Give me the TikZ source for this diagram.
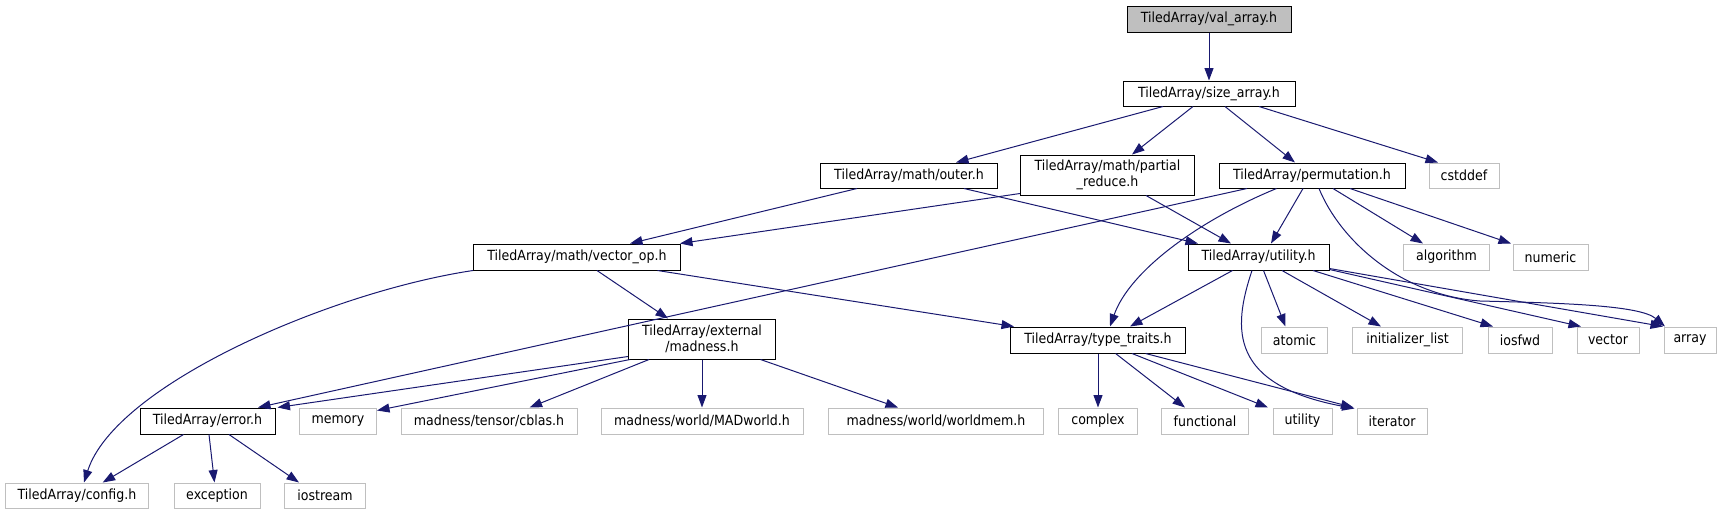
\documentclass[tikz,border=0pt]{standalone}
\usepackage{fontspec}
\setmainfont{DejaVu Sans Condensed}
\usetikzlibrary{arrows.meta}
\definecolor{edgec}{HTML}{191970}
\definecolor{leafc}{HTML}{BFBFBF}
\begin{document}
\begin{tikzpicture}[x=1pt,y=-1pt,
  box/.style={draw=black, line width=1pt, inner sep=0pt, minimum height=26pt,
    font=\fontsize{14}{15.5}\selectfont, align=center},
  leaf/.style={box, draw=leafc},
  edge/.style={draw=edgec, line width=1pt, -{Triangle[length=12.5pt,width=9pt]}}]
\useasboundingbox (0,0) rectangle (1725,515);
% row 0
\node[box, fill=leafc, minimum width=164pt] (val) at (1209,19) {TiledArray/val\_array.h};
% row 1
\node[box, minimum width=172pt, minimum height=25pt] (size) at (1209,93.5) {TiledArray/size\_array.h};
% row 2
\node[box, minimum width=177pt, minimum height=25pt] (outer) at (909,175.5) {TiledArray/math/outer.h};
\node[box, minimum width=174pt, minimum height=40pt] (partial) at (1107.5,175) {TiledArray/math/partial\\\_reduce.h};
\node[box, minimum width=186pt, minimum height=25pt] (perm) at (1312,175.5) {TiledArray/permutation.h};
\node[leaf, minimum width=70pt, minimum height=25pt] (cstddef) at (1464,175.5) {cstddef};
% row 3
\node[box, minimum width=207pt] (vecop) at (577,257) {TiledArray/math/vector\_op.h};
\node[box, minimum width=141pt] (utility) at (1258.5,257) {TiledArray/utility.h};
\node[leaf, minimum width=86pt] (algorithm) at (1446.5,257) {algorithm};
\node[leaf, minimum width=75pt] (numeric) at (1550.5,257) {numeric};
% row 4
\node[box, minimum width=147pt, minimum height=40pt] (madness) at (702,339) {TiledArray/external\\/madness.h};
\node[box, minimum width=175pt] (traits) at (1098,340) {TiledArray/type\_traits.h};
\node[leaf, minimum width=66pt] (atomic) at (1294.5,340) {atomic};
\node[leaf, minimum width=110pt] (initlist) at (1407.5,340) {initializer\_list};
\node[leaf, minimum width=64pt] (iosfwd) at (1520,340) {iosfwd};
\node[leaf, minimum width=62pt] (vector) at (1608,340) {vector};
\node[leaf, minimum width=52pt] (array) at (1690,340) {array};
% row 5
\node[box, minimum width=135pt] (error) at (207.5,421) {TiledArray/error.h};
\node[leaf, minimum width=77pt] (memory) at (338,421) {memory};
\node[leaf, minimum width=176pt] (cblas) at (489,421) {madness/tensor/cblas.h};
\node[leaf, minimum width=202pt] (madworld) at (702,421) {madness/world/MADworld.h};
\node[leaf, minimum width=215pt] (worldmem) at (936,421) {madness/world/worldmem.h};
\node[leaf, minimum width=79pt] (complex) at (1098,421) {complex};
\node[leaf, minimum width=87pt] (functional) at (1205,421) {functional};
\node[leaf, minimum width=59pt] (utilstd) at (1302.5,421) {utility};
\node[leaf, minimum width=70pt] (iterator) at (1392,421) {iterator};
% row 6
\node[leaf, minimum width=143pt, minimum height=25pt] (config) at (77,495.5) {TiledArray/config.h};
\node[leaf, minimum width=86pt, minimum height=25pt] (exception) at (217,495.5) {exception};
\node[leaf, minimum width=81pt, minimum height=25pt] (iostream) at (325,495.5) {iostream};
% edges
\draw[edge] (val.south) -- (size.north);
\draw[edge] ([xshift=-46pt]size.south) -- ([xshift=47pt]outer.north);
\draw[edge] ([xshift=-16pt]size.south) -- ([xshift=24.5pt]partial.north);
\draw[edge] ([xshift=16pt]size.south) -- ([xshift=-17pt]perm.north);
\draw[edge] ([xshift=50pt]size.south) -- ([xshift=-26pt]cstddef.north);
\draw[edge] ([xshift=-52pt]outer.south) -- ([xshift=53pt]vecop.north);
\draw[edge] ([xshift=55pt]outer.south) -- ([xshift=-60.5pt]utility.north);
\draw[edge] ([yshift=2pt]partial.south west) -- ([xshift=-1pt]vecop.north east);
\draw[edge] ([xshift=38.5pt]partial.south) -- ([xshift=-27.5pt]utility.north);
\draw[edge] ([xshift=-65pt]perm.south) -- ([xshift=50.5pt]error.north);
\draw[edge] ([xshift=-9pt]perm.south) -- ([xshift=12.5pt]utility.north);
\draw[edge] ([xshift=-35.5pt]perm.south) .. controls (1200,220) and (1130,270) .. ([xshift=12pt]traits.north);
\draw[edge] ([xshift=21pt]perm.south) -- ([xshift=-23.5pt]algorithm.north);
\draw[edge] ([xshift=38pt]perm.south) -- ([xshift=-39.5pt]numeric.north);
\draw[edge] ([xshift=7pt]perm.south) .. controls (1340,240) and (1400,295) .. (1480,301)
  .. controls (1560,303) and (1640,305) .. ([xshift=-25pt]array.north);
\draw[edge] (vecop.south west) .. controls (330,292) and (115,385) .. ([xshift=7pt]config.north);
\draw[edge] ([xshift=20pt]vecop.south) -- ([xshift=-34pt]madness.north);
\draw[edge] ([xshift=80.5pt]vecop.south) -- ([xshift=4pt]traits.north west);
\draw[edge] ([yshift=3pt]madness.south west) -- ([xshift=2pt]error.north east);
\draw[edge] ([xshift=2pt]madness.south west) -- ([yshift=-3pt]memory.north east);
\draw[edge] ([xshift=-53pt]madness.south) -- ([xshift=40.6pt]cblas.north);
\draw[edge] (madness.south) -- (madworld.north);
\draw[edge] ([xshift=58.5pt]madness.south) -- ([xshift=-38pt]worldmem.north);
\draw[edge] ([xshift=-26pt]utility.south) -- ([xshift=32pt]traits.north);
\draw[edge] ([xshift=-6.5pt]utility.south) .. controls (1232,330) and (1230,385) .. ([xshift=-2pt,yshift=-1pt]iterator.north west);
\draw[edge] ([xshift=5pt]utility.south) -- ([xshift=-9pt]atomic.north);
\draw[edge] ([xshift=23.5pt]utility.south) -- ([xshift=-26.5pt]initlist.north);
\draw[edge] ([xshift=54.5pt]utility.south) -- ([xshift=-27pt]iosfwd.north);
\draw[edge] ([yshift=1pt]utility.south east) -- ([xshift=-27pt]vector.north);
\draw[edge] ([yshift=2pt]utility.south east) -- ([xshift=-27pt]array.north);
\draw[edge] (traits.south) -- (complex.north);
\draw[edge] ([xshift=17.6pt]traits.south) -- ([xshift=-20pt]functional.north);
\draw[edge] ([xshift=34pt]traits.south) -- ([xshift=-34.5pt]utilstd.north);
\draw[edge] ([xshift=47.6pt]traits.south) -- ([xshift=-3pt]iterator.north west);
\draw[edge] ([xshift=-24pt]error.south) -- ([xshift=25.7pt]config.north);
\draw[edge] ([xshift=1.5pt]error.south) -- ([xshift=-2.5pt]exception.north);
\draw[edge] ([xshift=21.5pt]error.south) -- ([xshift=-26pt]iostream.north);
\end{tikzpicture}
\end{document}
